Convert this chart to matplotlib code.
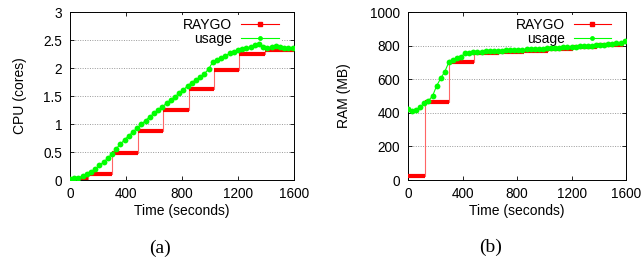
import matplotlib.pyplot as plt
from matplotlib.lines import Line2D

plt.rcParams['font.family'] = ['Liberation Sans', 'DejaVu Sans']

# CPU panel (a)
cpu_step_t = [0, 130, 300, 485, 665, 850, 1025, 1205, 1390, 1600]
cpu_step_v = [0.01, 0.1, 0.48, 0.87, 1.25, 1.62, 1.96, 2.25, 2.33, 2.33]

cpu_t = list(range(0, 1600, 30))
cpu_use = [0.02, 0.03, 0.04, 0.07, 0.11, 0.15, 0.20, 0.26, 0.32, 0.39,
           0.47, 0.56, 0.64, 0.72, 0.79, 0.86, 0.93, 1.00, 1.06, 1.13,
           1.19, 1.25, 1.31, 1.37, 1.43, 1.49, 1.55, 1.61, 1.68, 1.74,
           1.79, 1.84, 1.90, 1.98, 2.11, 2.14, 2.18, 2.22, 2.26, 2.29,
           2.32, 2.34, 2.36, 2.37, 2.41, 2.42, 2.38, 2.36, 2.38, 2.39,
           2.37, 2.36, 2.36, 2.35]

# RAM panel (b)
ram_step_t = [0, 125, 300, 482, 665, 850, 1030, 1210, 1390, 1580, 1600]
ram_step_v = [25, 462, 700, 755, 762, 770, 778, 790, 805, 820, 820]

ram_t = list(range(0, 1600, 30))
ram_use = [422, 410, 418, 435, 460, 472, 500, 560, 605, 645,
           702, 712, 725, 735, 755, 758, 760, 762, 763, 765,
           766, 767, 768, 770, 771, 772, 773, 775, 776, 777,
           778, 780, 781, 782, 784, 785, 786, 788, 789, 790,
           792, 793, 795, 797, 798, 800, 802, 804, 806, 808,
           810, 813, 818, 828]

xticks = [0, 400, 800, 1200, 1600]

fig = plt.figure(figsize=(6.41, 2.60), dpi=100)
ax1 = fig.add_axes([70/641, 80/260, 224/641, 168/260])
ax2 = fig.add_axes([408/641, 80/260, 218/641, 168/260])

red = '#ff0000'
green = '#00ff00'


def draw(ax, st, sv, ut, uv, ylim, yticks, ylabel, ylab_x, leg_x):
    ax.grid(axis='y', linestyle=(0, (1, 1.5)), color='#999999', linewidth=0.7)
    ax.set_axisbelow(True)
    # thin connecting step line
    ax.step(st, sv, where='post', color='#ff6666', linewidth=0.8, zorder=2)
    # thick step bars
    ax.hlines(sv[:-1], st[:-1], st[1:], color=red, linewidth=3, zorder=3)
    ax.plot(ut, uv, color=green, linewidth=0.8, marker='o', markersize=4.2,
            markeredgewidth=0, zorder=4)
    ax.set_xlim(0, 1600)
    ax.set_ylim(*ylim)
    ax.set_xticks(xticks)
    ax.set_yticks(yticks)
    ax.tick_params(direction='in', top=True, right=True, labelsize=9.8,
                   length=3, width=0.6)
    ax.tick_params(axis='x', pad=5)
    ax.tick_params(axis='y', pad=5.5)
    ax.set_xlabel('Time (seconds)', fontsize=10, labelpad=2)
    ax.set_ylabel(ylabel, fontsize=10)
    ax.yaxis.set_label_coords(ylab_x, 0.5)
    for s in ax.spines.values():
        s.set_linewidth(0.7)
    handles = [Line2D([], [], color=red, linewidth=0.8, marker='s', markersize=3.5),
               Line2D([], [], color=green, linewidth=0.8, marker='o', markersize=3.5,
                      markeredgewidth=0)]
    leg = ax.legend(handles, ['RAYGO', 'usage'], loc='upper right', fontsize=10,
                    markerfirst=False, frameon=True, framealpha=1,
                    edgecolor='none', handlelength=2.7, borderaxespad=0,
                    bbox_to_anchor=(leg_x, 0.98),
                    labelspacing=0.0, borderpad=0.2, handletextpad=0.65)
    leg.get_frame().set_linewidth(0)
    leg.set_zorder(1.5)


draw(ax1, cpu_step_t, cpu_step_v, cpu_t, cpu_use, (0, 3),
     [0, 0.5, 1, 1.5, 2, 2.5, 3], 'CPU (cores)', -0.19, 0.945)
ax1.set_yticklabels(['0', '0.5', '1', '1.5', '2', '2.5', '3'])
draw(ax2, ram_step_t, ram_step_v, ram_t, ram_use, (0, 1000),
     [0, 200, 400, 600, 800, 1000], 'RAM (MB)', -0.26, 0.945)

fig.text(160/641, 1 - 248/260, '(a)', ha='center', va='center', fontsize=14,
         family='Liberation Serif')
fig.text(491/641, 1 - 247/260, '(b)', ha='center', va='center', fontsize=14,
         family='Liberation Serif')

fig.savefig('out.png', dpi=100)
